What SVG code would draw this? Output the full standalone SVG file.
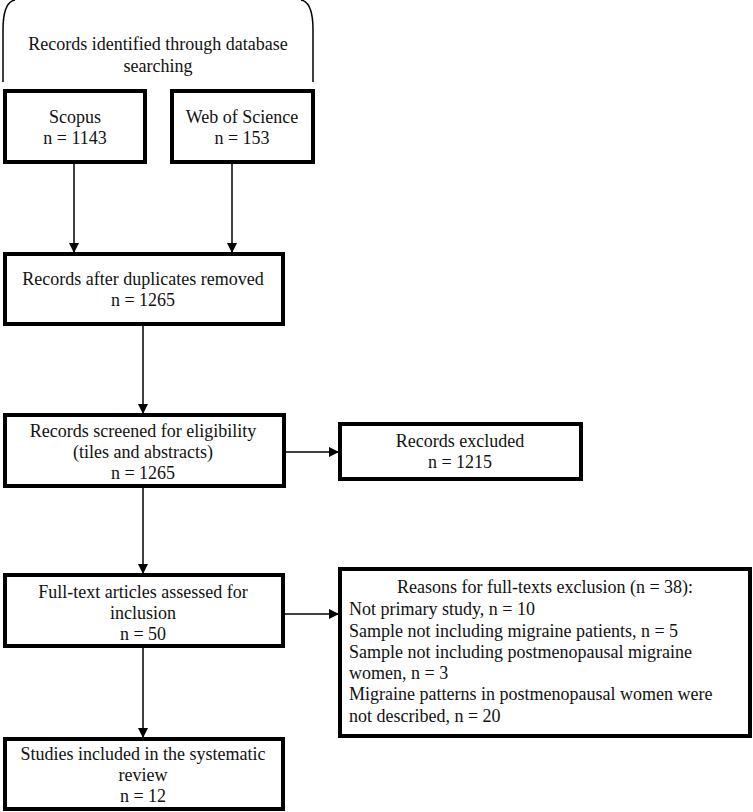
<svg xmlns="http://www.w3.org/2000/svg" width="753" height="812" viewBox="0 0 753 812" font-family="'Liberation Serif', 'Times New Roman', serif">
<style>
text{font-family:'Liberation Serif','Times New Roman',serif;font-size:18px;fill:#111;}
.c{text-anchor:middle;}
.box{fill:#fff;stroke:#000;stroke-width:4;}
.ln{stroke:#000;stroke-width:1.5;fill:none;}
</style>
<defs>
<marker id="ah" markerWidth="10" markerHeight="10" refX="9" refY="5" orient="auto" markerUnits="userSpaceOnUse">
<path d="M0,0 L10,5 L0,10 Z" fill="#000"/>
</marker>
</defs>
<g id="bracket">
<path class="ln" d="M3,82 V30 Q3,2 15,0 M313,82 V30 Q313,2 301,0" />
<text class="c" x="158" y="50">Records identified through database</text>
<text class="c" x="158" y="72">searching</text>
</g>
<g id="scopus">
<rect class="box" x="5" y="91" width="140" height="71"/>
<text class="c" x="75" y="123">Scopus</text>
<text class="c" x="75" y="144">n = 1143</text>
</g>
<g id="wos">
<rect class="box" x="172" y="91" width="141" height="71"/>
<text class="c" x="242" y="123">Web of Science</text>
<text class="c" x="242" y="144">n = 153</text>
</g>
<g id="dedup">
<rect class="box" x="5" y="254" width="278" height="70"/>
<text class="c" x="143" y="285">Records after duplicates removed</text>
<text class="c" x="143" y="306">n = 1265</text>
</g>
<g id="screened">
<rect class="box" x="5" y="415" width="279" height="71"/>
<text class="c" x="143" y="437">Records screened for eligibility</text>
<text class="c" x="143" y="458">(tiles and abstracts)</text>
<text class="c" x="143" y="479">n = 1265</text>
</g>
<g id="excluded">
<rect class="box" x="340" y="424" width="241" height="55"/>
<text class="c" x="460" y="447">Records excluded</text>
<text class="c" x="460" y="468">n = 1215</text>
</g>
<g id="fulltext">
<rect class="box" x="5" y="575" width="278" height="71"/>
<text class="c" x="143" y="598">Full-text articles assessed for</text>
<text class="c" x="143" y="619">inclusion</text>
<text class="c" x="143" y="640">n = 50</text>
</g>
<g id="reasons">
<rect class="box" x="340" y="569" width="410" height="167"/>
<text class="c" x="545" y="593">Reasons for full-texts exclusion (n = 38):</text>
<text x="349" y="615">Not primary study, n = 10</text>
<text x="349" y="637">Sample not including migraine patients, n = 5</text>
<text x="349" y="658">Sample not including postmenopausal migraine</text>
<text x="349" y="679">women, n = 3</text>
<text x="349" y="700">Migraine patterns in postmenopausal women were</text>
<text x="349" y="722">not described, n = 20</text>
</g>
<g id="included">
<rect class="box" x="5" y="739" width="278" height="70"/>
<text class="c" x="143" y="760">Studies included in the systematic</text>
<text class="c" x="143" y="781">review</text>
<text class="c" x="143" y="802">n = 12</text>
</g>
<g id="connectors">
<line class="ln" x1="74" y1="164" x2="74" y2="252" marker-end="url(#ah)"/>
<line class="ln" x1="232" y1="164" x2="232" y2="252" marker-end="url(#ah)"/>
<line class="ln" x1="143" y1="326" x2="143" y2="413" marker-end="url(#ah)"/>
<line class="ln" x1="286" y1="452" x2="338" y2="452" marker-end="url(#ah)"/>
<line class="ln" x1="143" y1="488" x2="143" y2="573" marker-end="url(#ah)"/>
<line class="ln" x1="285" y1="614" x2="338" y2="614" marker-end="url(#ah)"/>
<line class="ln" x1="143" y1="648" x2="143" y2="737" marker-end="url(#ah)"/>
</g>
</svg>
